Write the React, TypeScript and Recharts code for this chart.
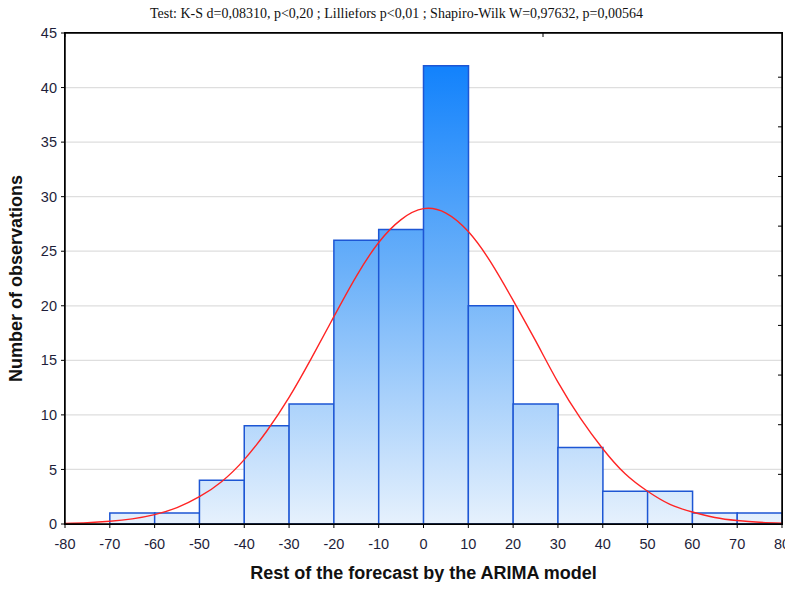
import React from 'react';
import {
  ComposedChart, Bar, Line, XAxis, YAxis, CartesianGrid, Label
} from 'recharts';

// histogram bins (lower bound of each 10-wide class)
const binStarts = [-80, -70, -60, -50, -40, -30, -20, -10, 0, 10, 20, 30, 40, 50, 60, 70];
const binCounts = [0, 1, 1, 4, 9, 11, 26, 27, 42, 20, 11, 7, 3, 3, 1, 1];

// expected normal curve
const curveX = [-80, -75, -70, -65, -60, -55, -50, -45, -40, -35, -30, -25, -20, -15, -10, -5,
  0, 5, 10, 15, 20, 25, 30, 35, 40, 45, 50, 55, 60, 65, 70, 75, 80];
const curveY = [0.06, 0.12, 0.25, 0.47, 0.86, 1.5, 2.5, 3.9, 5.9, 8.5, 11.6, 15.2, 19.0, 22.7, 25.8, 27.9,
  28.9, 28.5, 26.8, 24.0, 20.5, 16.8, 13.0, 9.7, 6.9, 4.6, 3.0, 1.8, 1.1, 0.6, 0.32, 0.16, 0.08];

const xTicks = [-80, -70, -60, -50, -40, -30, -20, -10, 0, 10, 20, 30, 40, 50, 60, 70, 80];
const yTicks = [0, 5, 10, 15, 20, 25, 30, 35, 40, 45];
// inner tick marks on the right frame (secondary scale, no labels)
const rightTicks = [4.55, 9.1, 13.65, 18.2, 22.75, 27.3, 31.85, 36.4, 40.95];

const TITLE = 'Test: K-S d=0,08310, p<0,20 ; Lilliefors p<0,01 ; Shapiro-Wilk W=0,97632, p=0,00564';

const barData = binStarts.map((b, i) => ({ bin: String(b), count: binCounts[i] }));
const curveData = curveX.map((x, i) => ({ x, y: curveY[i] }));

const tickStyle = { fontFamily: 'Liberation Sans, Arial, sans-serif', fontSize: 14.5, fill: '#1e1e3a' };
const noLabel = () => '';

export default function App() {
  return (
    <div style={{ position: 'relative', margin: -8, width: 793, height: 590, background: '#fff' }}>
      <div
        style={{
          position: 'absolute', top: 5, left: 0, width: 793, textAlign: 'center', zIndex: 2,
          fontFamily: 'Liberation Serif, Times New Roman, serif', fontSize: 14, lineHeight: '17px', color: '#111'
        }}
      >
        {TITLE}
      </div>
      <ComposedChart
        width={793}
        height={590}
        data={barData}
        barCategoryGap={0}
        barGap={0}
        margin={{ top: 32, right: 10, bottom: 0, left: 0 }}
        style={{ overflow: 'visible' }}
      >
        <defs>
          <linearGradient id="barFill" gradientUnits="userSpaceOnUse" x1="0" y1="66" x2="0" y2="524">
            <stop offset="0%" stopColor="#1282fc" />
            <stop offset="45%" stopColor="#6cb1f9" />
            <stop offset="100%" stopColor="#e6f1fd" />
          </linearGradient>
        </defs>
        <CartesianGrid horizontal vertical={false} stroke="#dedede" strokeWidth={1.3} yAxisId="left" xAxisId="num" />
        <XAxis
          xAxisId="num"
          dataKey="x"
          type="number"
          domain={[-80, 80]}
          ticks={xTicks}
          interval={0}
          allowDataOverflow
          height={66}
          tickSize={4}
          tickMargin={11}
          tick={tickStyle}
          axisLine={{ stroke: '#000', strokeWidth: 1.5 }}
          tickLine={{ stroke: '#000' }}
        >
          <Label
            value="Rest of the forecast by the ARIMA model"
            position="insideBottom"
            offset={11}
            style={{ fontFamily: 'Liberation Sans, Arial, sans-serif', fontSize: 18, fontWeight: 'bold', fill: '#111' }}
          />
        </XAxis>
        <XAxis xAxisId="bins" dataKey="bin" type="category" hide height={0} />
        <XAxis
          xAxisId="top"
          orientation="top"
          type="number"
          domain={[-80, 80]}
          allowDataOverflow
          ticks={xTicks}
          interval={0}
          height={1}
          tickFormatter={noLabel}
          tickSize={-4}
          axisLine={{ stroke: '#000', strokeWidth: 1.5 }}
          tickLine={{ stroke: '#000' }}
        />
        <YAxis
          yAxisId="left"
          type="number"
          domain={[0, 45]}
          ticks={yTicks}
          interval={0}
          width={65}
          tickSize={4}
          tickMargin={4}
          tick={tickStyle}
          axisLine={{ stroke: '#000', strokeWidth: 1.5 }}
          tickLine={{ stroke: '#000' }}
        >
          <Label
            value="Number of observations"
            angle={-90}
            position="insideLeft"
            offset={16}
            style={{ textAnchor: 'middle', fontFamily: 'Liberation Sans, Arial, sans-serif', fontSize: 18, fontWeight: 'bold', fill: '#111' }}
          />
        </YAxis>
        <YAxis
          yAxisId="right"
          orientation="right"
          type="number"
          domain={[0, 45]}
          allowDataOverflow
          ticks={rightTicks}
          interval={0}
          width={1}
          tickFormatter={noLabel}
          tickSize={-4}
          axisLine={{ stroke: '#000', strokeWidth: 1.5 }}
          tickLine={{ stroke: '#000' }}
        />
        <Bar
          xAxisId="bins"
          yAxisId="left"
          dataKey="count"
          fill="url(#barFill)"
          stroke="#1d56d4"
          strokeWidth={1.5}
          isAnimationActive={false}
        />
        <Line
          xAxisId="num"
          yAxisId="left"
          data={curveData}
          dataKey="y"
          type="natural"
          stroke="#ff2424"
          strokeWidth={1.4}
          dot={false}
          isAnimationActive={false}
        />
      </ComposedChart>
      {/* plot frame */}
      <div
        style={{
          position: 'absolute', left: 64.25, top: 32.25, width: 718.5, height: 492.5,
          boxSizing: 'border-box', border: '1.5px solid #000', pointerEvents: 'none'
        }}
      />
    </div>
  );
}
